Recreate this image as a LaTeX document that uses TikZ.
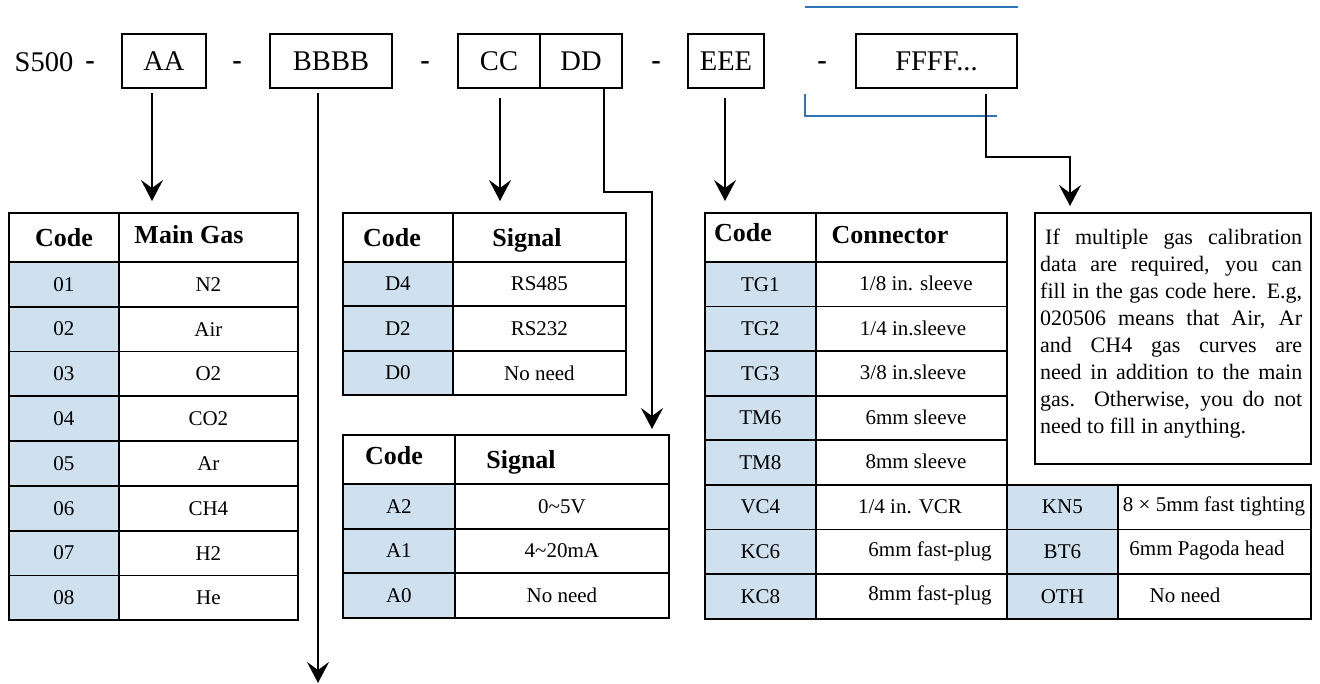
\documentclass[tikz,border=0pt]{standalone}
\usepackage{fontspec}
\setmainfont{Liberation Serif}
\usetikzlibrary{arrows.meta}
\definecolor{codeblue}{RGB}{207,224,238}
\definecolor{lineblue}{RGB}{46,117,182}

\begin{document}
\begin{tikzpicture}[x=1pt,y=-1pt,
    box/.style={draw,line width=1.8pt,minimum height=54,inner sep=0pt,font=\fontsize{28.5}{30}\selectfont},
    part/.style={font=\fontsize{28.5}{30}\selectfont},
    dashmark/.style={font=\bfseries\fontsize{28.5}{30}\selectfont},
    cell/.style={draw,line width=1.8pt,anchor=north west,inner sep=0pt,font=\fontsize{21}{24}\selectfont},
    codecell/.style={cell,fill=codeblue},
    hd/.style={font=\bfseries\fontsize{26}{28}\selectfont},
    val/.style={font=\fontsize{21}{24}\selectfont},
    arr/.style={-{Stealth[length=21pt,width=22pt,inset=8pt]},line width=1.8pt},
    blueline/.style={draw=lineblue,line width=1.8pt}]
		\useasboundingbox (0,0) rectangle (1320,684);

		% Order code
		\node[part] (S500) at (44,62) {S500};
		\node[dashmark] (d1) at (90,66) {-};
		\node[box,minimum width=84] (AA) at (164,61) {AA};
		\node[dashmark] (d2) at (237,66) {-};
		\node[box,minimum width=122] (BBBB) at (331,61) {BBBB};
		\node[dashmark] (d3) at (425,66) {-};
		\node[box,minimum width=82] (CC) at (499,61) {CC};
		\node[box,minimum width=82] (DD) at (581,61) {DD};
		\node[dashmark] (d4) at (656,66) {-};
		\node[box,minimum width=76] (EEE) at (726,61) {EEE};
		\node[dashmark] (d5) at (822,66) {-};
		\node[box,minimum width=161] (FFFF) at (936.5,61) {FFFF...};

		\draw[blueline] (805,7) -- (1018,7);
		\draw[blueline] (805,94) |- (997,116);

		% Main gas
		\node[cell,minimum width=110,minimum height=49] (gh1) at (8,212) {};
		\node[cell,minimum width=179,minimum height=49] (gh2) at (118,212) {};
		\node[hd] (gh1t) at (64,238) {Code};
		\node[hd] (gh2t) at (189,235) {Main Gas};
		\foreach \c/\g [count=\i from 0] in {01/N2,02/Air,03/O2,04/CO2,05/Ar,06/CH4,07/H2,08/He}
		{
			\node[codecell,minimum width=110,minimum height=44.8] (gc\i) at (8,{261+44.8*\i}) {\c};
			\node[cell,minimum width=179,minimum height=44.8] (gv\i) at (118,{261+44.8*\i}) {\g};
		}

		% Digital signal
		\node[cell,minimum width=110,minimum height=49] (sh1) at (342,212) {};
		\node[cell,minimum width=173,minimum height=49] (sh2) at (452,212) {};
		\node[hd] (sh1t) at (392,238) {Code};
		\node[hd] (sh2t) at (527,240) {Signal};
		\foreach \c/\g [count=\i from 0] in {D4/RS485,D2/RS232,D0/No need}
		{
			\node[codecell,minimum width=110,minimum height=44.4] (sc\i) at (342,{261+44.4*\i}) {\c};
			\node[cell,minimum width=173,minimum height=44.4] (sv\i) at (452,{261+44.4*\i}) {\g};
		}

		% Analog signal
		\node[cell,minimum width=112,minimum height=49] (ah1) at (342,434) {};
		\node[cell,minimum width=214,minimum height=49] (ah2) at (454,434) {};
		\node[hd] (ah1t) at (394,456) {Code};
		\node[hd] (ah2t) at (521,462) {Signal};
		\foreach \c/\g [count=\i from 0] in {A2/0\textasciitilde5V,A1/4\textasciitilde20mA,A0/No need}
		{
			\node[codecell,minimum width=112,minimum height=44.7] (ac\i) at (342,{483+44.7*\i}) {\c};
			\node[cell,minimum width=214,minimum height=44.7] (av\i) at (454,{483+44.7*\i}) {\g};
		}

		% Connector
		\node[cell,minimum width=111,minimum height=49] (ch1) at (704,212) {};
		\node[cell,minimum width=191,minimum height=49] (ch2) at (815,212) {};
		\node[hd] (ch1t) at (743,233) {Code};
		\node[hd] (ch2t) at (890,235) {Connector};
		\foreach \c/\g/\x [count=\i from 0] in {TG1/{1/8 in. sleeve}/916,TG2/{1/4 in.sleeve}/913,
			TG3/{3/8 in.sleeve}/913,TM6/6mm sleeve/916,TM8/8mm sleeve/916,VC4/{1/4 in. VCR}/910,
			KC6/6mm fast-plug/930,KC8/8mm fast-plug/930}
		{
			\node[codecell,minimum width=111,minimum height=44.6] (cc\i) at (704,{261+44.6*\i}) {\c};
			\node[cell,minimum width=191,minimum height=44.6] (cv\i) at (815,{261+44.6*\i}) {};
			\node[val] (ct\i) at (\x,{283.3+44.6*\i}) {\g};
		}
		\foreach \c/\g/\x [count=\i from 5] in {KN5/8 × 5mm fast tighting/1214,
			BT6/6mm Pagoda head/1207,OTH/No need/1185}
		{
			\node[codecell,minimum width=111,minimum height=44.6] (ec\i) at (1006,{261+44.6*\i}) {\c};
			\node[cell,minimum width=193,minimum height=44.6] (ev\i) at (1117,{261+44.6*\i}) {};
			\node[val] (et\i) at (\x,{283.3+44.6*\i}) {\g};
		}

		% Extra gases
		\node[draw,line width=1.8pt,anchor=north west,minimum width=276,minimum height=251,inner sep=0pt] (note) at (1034,212) {};
		\node[anchor=north west,text width=262,align=justify,inner sep=0pt,
			font=\fontsize{22}{27}\selectfont] (notetext) at (1040,229)
			{\hspace*{5pt}If multiple gas calibration\linebreak data are required, you can\linebreak
			fill in the gas code here. E.g,\linebreak 020506 means that Air, Ar\linebreak
			and CH4 gas curves are\linebreak need in addition to the main\linebreak
			gas. Otherwise, you do not\linebreak need to fill in anything.};

		% Arrows
		\coordinate (aaend) at (152,201);
		\coordinate (bbend) at (318,683);
		\coordinate (ccend) at (500,201);
		\coordinate (ddturn) at (652,192);
		\coordinate (ddend) at (652,429);
		\coordinate (eeend) at (725,201);
		\coordinate (ffturn) at (1070,157);
		\coordinate (ffend) at (1070,206);
		\draw[arr] (AA.south -| aaend) ++(0,4) -- (aaend);
		\draw[arr] (BBBB.south -| bbend) ++(0,4) -- (bbend);
		\draw[arr] (CC.south -| ccend) ++(0,9) -- (ccend);
		\draw[arr] ([xshift=23pt]DD.south) |- (ddturn) -- (ddend);
		\draw[arr] (EEE.south -| eeend) ++(0,9) -- (eeend);
		\draw[arr] ([xshift=49.5pt]FFFF.south) ++(0,5) |- (ffturn) -- (ffend);
\end{tikzpicture}
\end{document}
